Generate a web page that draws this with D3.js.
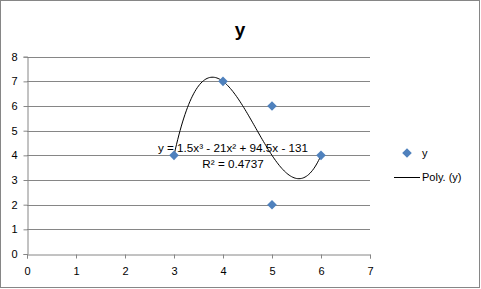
<!DOCTYPE html>
<html><head><meta charset="utf-8">
<script src="https://cdn.jsdelivr.net/npm/d3@7"></script>
<style>html,body{margin:0;padding:0;background:#fff;}svg{display:block;font-family:"Liberation Sans",Arial,sans-serif;}</style>
</head><body>
<script>
const xValues = [3, 4, 5, 5, 6];
const yValues = [4, 7, 6, 2, 4];
const seriesName = "y";
const trendName = "Poly. (y)";
const trendCoefficients = [1.5, -21, 94.5, -131]; // cubic, highest power first
const trendLabel = "y = 1.5x³ - 21x² + 94.5x - 131";
const r2Label = "R² = 0.4737";
const xTicks = [0, 1, 2, 3, 4, 5, 6, 7];
const yTicks = [0, 1, 2, 3, 4, 5, 6, 7, 8];

const W = 481, H = 289;
const svg = d3.select("body").append("svg").attr("width", W).attr("height", H);
svg.append("rect").attr("x", 0.5).attr("y", 0.5).attr("width", 479).attr("height", 287)
  .attr("fill", "#fff").attr("stroke", "#868686");

const x = d3.scaleLinear().domain([0, 7]).range([27, 370]);
const y = d3.scaleLinear().domain([0, 8]).range([254, 56.7]);
const grid = "#868686";

// gridlines
svg.append("g").selectAll("line").data(yTicks.filter(d => d > 0)).join("line")
  .attr("x1", x(0)).attr("x2", x(7))
  .attr("y1", d => Math.round(y(d)) + 0.5).attr("y2", d => Math.round(y(d)) + 0.5)
  .attr("stroke", grid).attr("stroke-width", 1);

// axes
const yAxis = svg.append("g").attr("transform", `translate(${Math.round(x(0)) + 0.5},0)`)
  .call(d3.axisLeft(y).tickValues(yTicks).tickFormat(d3.format("d")).tickSize(4).tickPadding(6));
const xAxis = svg.append("g").attr("transform", `translate(0,${Math.round(y(0)) + 0.5})`)
  .call(d3.axisBottom(x).tickValues(xTicks).tickFormat(d3.format("d")).tickSize(4).tickPadding(9));
[yAxis, xAxis].forEach(a => {
  a.select(".domain").attr("stroke", grid);
  a.selectAll(".tick line").attr("stroke", grid);
  a.selectAll("text").attr("fill", "#000").style("font-size", "11px").attr("font-family", "Liberation Sans, Arial, sans-serif");
});

// title
svg.append("text").attr("x", 240).attr("y", 36).attr("text-anchor", "middle")
  .style("font-size", "19px").style("font-weight", "bold").text(seriesName);

// trendline
const poly = t => trendCoefficients.reduce((acc, c) => acc * t + c, 0);
const xs = d3.range(0, 121).map(i => d3.min(xValues) + (d3.max(xValues) - d3.min(xValues)) * i / 120);
svg.append("path").datum(xs)
  .attr("d", d3.line().x(d => x(d)).y(d => y(poly(d))))
  .attr("fill", "none").attr("stroke", "#000").attr("stroke-width", 1);

// points
const diamond = d3.symbol().type(d3.symbolSquare).size(46)();
svg.append("g").selectAll("path").data(xValues.map((d, i) => [d, yValues[i]])).join("path")
  .attr("transform", d => `translate(${x(d[0])},${y(d[1])}) rotate(45)`)
  .attr("d", diamond)
  .attr("fill", "#4F81BD");

// trend labels
svg.append("text").attr("x", 233).attr("y", 152).attr("text-anchor", "middle")
  .style("font-size", "11.7px").text(trendLabel);
svg.append("text").attr("x", 233).attr("y", 168).attr("text-anchor", "middle")
  .style("font-size", "11.7px").text(r2Label);

// legend
svg.append("path").attr("transform", "translate(407,153) rotate(45)")
  .attr("d", diamond).attr("fill", "#4F81BD");
svg.append("text").attr("x", 422).attr("y", 157).style("font-size", "11px").text(seriesName);
svg.append("line").attr("x1", 394).attr("x2", 420).attr("y1", 177.5).attr("y2", 177.5)
  .attr("stroke", "#000").attr("stroke-width", 1);
svg.append("text").attr("x", 422).attr("y", 181).style("font-size", "11px").text(trendName);
</script>
</body></html>
